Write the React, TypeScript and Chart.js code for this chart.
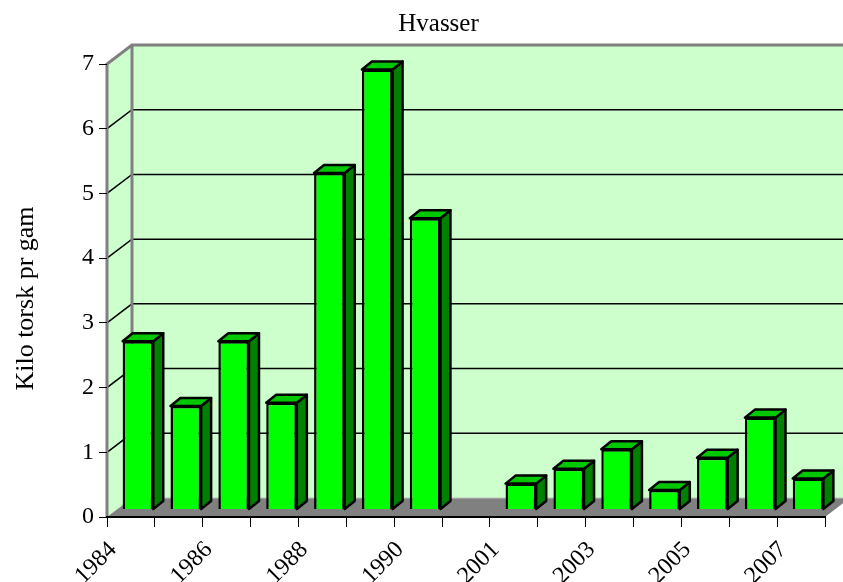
import React, { useEffect, useRef } from 'react';
import { Chart, registerables } from 'chart.js';

Chart.register(...registerables);

// ---- data ----
const categories = ['1984', '1985', '1986', '1987', '1988', '1989', '1990', '2000', '2001', '2002', '2003', '2004', '2005', '2006', '2007'];
const values: (number | null)[] = [2.6, 1.6, 2.6, 1.65, 5.2, 6.8, 4.5, null, 0.4, 0.63, 0.93, 0.3, 0.8, 1.42, 0.48];
const yTicks = [0, 1, 2, 3, 4, 5, 6, 7];
const chartTitle = 'Hvasser';
const yTitle = 'Kilo torsk pr gam';

// ---- style ----
const FONT = "'Times New Roman', 'Liberation Serif', serif";
const WALL_DX = 25;
const WALL_DY = 19;
const BAR_SHIFT_X = 7;
const BAR_SHIFT_Y = 7.5;
const BAR_DX = 10;
const BAR_DY = 8;
const WALL_COLOR = '#CCFFCC';
const FLOOR_COLOR = '#808080';
const EDGE_COLOR = '#808080';

const box3d = {
  id: 'box3d',
  beforeDraw(chart: any) {
    const { ctx, chartArea: a, scales } = chart;
    const ys = scales.y;
    const L = a.left, R = a.right, T = a.top, B = a.bottom;
    const W = chart.width + 10;
    ctx.save();
    // back wall
    ctx.fillStyle = WALL_COLOR;
    ctx.fillRect(L + WALL_DX, T - WALL_DY, W - (L + WALL_DX), B - T);
    // left wall
    ctx.beginPath();
    ctx.moveTo(L, T);
    ctx.lineTo(L + WALL_DX, T - WALL_DY);
    ctx.lineTo(L + WALL_DX, B - WALL_DY);
    ctx.lineTo(L, B);
    ctx.closePath();
    ctx.fill();
    // gridlines
    ctx.strokeStyle = '#000';
    ctx.lineWidth = 1.5;
    yTicks.forEach((v) => {
      if (v <= 0 || v >= yTicks[yTicks.length - 1]) return;
      const py = ys.getPixelForValue(v);
      ctx.beginPath();
      ctx.moveTo(L, py);
      ctx.lineTo(L + WALL_DX, py - WALL_DY);
      ctx.lineTo(W, py - WALL_DY);
      ctx.stroke();
    });
    // floor
    ctx.fillStyle = FLOOR_COLOR;
    ctx.beginPath();
    ctx.moveTo(L, B);
    ctx.lineTo(R, B);
    ctx.lineTo(R + WALL_DX, B - WALL_DY);
    ctx.lineTo(L + WALL_DX, B - WALL_DY);
    ctx.closePath();
    ctx.fill();
    ctx.strokeStyle = '#C0C0C0';
    ctx.lineWidth = 1;
    ctx.beginPath();
    ctx.moveTo(L + WALL_DX, B - WALL_DY);
    ctx.lineTo(W, B - WALL_DY);
    ctx.stroke();
    // outline edges
    ctx.strokeStyle = EDGE_COLOR;
    ctx.lineWidth = 3;
    ctx.lineJoin = 'miter';
    ctx.beginPath();
    ctx.moveTo(L, B);
    ctx.lineTo(L, T);
    ctx.lineTo(L + WALL_DX, T - WALL_DY);
    ctx.lineTo(W, T - WALL_DY);
    ctx.moveTo(L + WALL_DX, T - WALL_DY);
    ctx.lineTo(L + WALL_DX, B - WALL_DY);
    ctx.stroke();
    // titles
    ctx.fillStyle = '#000';
    ctx.font = `25px ${FONT}`;
    ctx.textAlign = 'center';
    ctx.textBaseline = 'alphabetic';
    ctx.fillText(chartTitle, 438.5, 31);
    ctx.save();
    ctx.font = `26px ${FONT}`;
    ctx.translate(33, (T + B) / 2 + 8);
    ctx.rotate(-Math.PI / 2);
    ctx.fillText(yTitle, 0, 0);
    ctx.restore();
    ctx.restore();
  },
  beforeDatasetsDraw(chart: any) {
    const ctx = chart.ctx;
    ctx.save();
    ctx.translate(BAR_SHIFT_X, -BAR_SHIFT_Y);
    const meta = chart.getDatasetMeta(0);
    meta.data.forEach((bar: any, i: number) => {
      if (values[i] == null) return;
      const { x, y, base, width } = bar.getProps(['x', 'y', 'base', 'width'], true);
      if (!isFinite(y)) return;
      const l = x - width / 2;
      const r = x + width / 2;
      ctx.lineWidth = 2.5;
      ctx.strokeStyle = '#000';
      ctx.lineJoin = 'round';
      // side face
      ctx.beginPath();
      ctx.moveTo(r, y);
      ctx.lineTo(r + BAR_DX, y - BAR_DY);
      ctx.lineTo(r + BAR_DX, base - BAR_DY);
      ctx.lineTo(r, base);
      ctx.closePath();
      ctx.fillStyle = '#008000';
      ctx.fill();
      ctx.stroke();
      // top face
      ctx.beginPath();
      ctx.moveTo(l, y);
      ctx.lineTo(l + BAR_DX, y - BAR_DY);
      ctx.lineTo(r + BAR_DX, y - BAR_DY);
      ctx.lineTo(r, y);
      ctx.closePath();
      ctx.fillStyle = '#00C800';
      ctx.fill();
      ctx.stroke();
    });
  },
  afterDatasetsDraw(chart: any) {
    chart.ctx.restore();
  },
};

export default function App() {
  const ref = useRef<HTMLCanvasElement | null>(null);
  useEffect(() => {
    if (!ref.current) return;
    const chart = new Chart(ref.current, {
      type: 'bar',
      data: {
        labels: categories,
        datasets: [
          {
            data: values,
            backgroundColor: '#00FF00',
            borderColor: '#000',
            borderWidth: 2.5,
            barPercentage: 0.64,
            categoryPercentage: 1,
            clip: false,
          } as any,
        ],
      },
      options: {
        responsive: false,
        animation: false,
        events: [],
        layout: { padding: { top: 64, right: 18, left: 0, bottom: 0 } },
        plugins: {
          legend: { display: false },
          title: { display: false },
          tooltip: { enabled: false },
        },
        scales: {
          x: {
            type: 'category',
            offset: true,
            grid: {
              display: true,
              drawOnChartArea: false,
              drawTicks: true,
              tickLength: 10,
              color: '#000',
              lineWidth: 1,
              offset: true,
            },
            border: { display: true, color: '#000', width: 2 },
            ticks: {
              autoSkip: false,
              maxRotation: 45,
              minRotation: 45,
              color: '#000',
              padding: 9,
              labelOffset: -18,
              font: { family: FONT, size: 24 },
              callback: (_v: any, i: number) => (i % 2 === 0 ? categories[i] : ''),
            },
            afterFit: (s: any) => {
              s.height = 65;
            },
          },
          y: {
            min: 0,
            max: 7,
            ticks: {
              color: '#000',
              padding: 5,
              font: { family: FONT, size: 24 },
            },
            afterBuildTicks: (s: any) => {
              s.ticks = yTicks.map((v) => ({ value: v }));
            },
            grid: {
              drawOnChartArea: false,
              drawTicks: true,
              tickLength: 8,
              color: '#000',
            },
            border: { display: false },
            afterFit: (s: any) => {
              s.width = 107;
            },
          },
        },
      } as any,
      plugins: [box3d],
    });
    return () => chart.destroy();
  }, []);
  return (
    <div style={{ position: 'fixed', left: 0, top: 0, width: 843, height: 582, background: '#fff' }}>
      <canvas ref={ref} width={843} height={582} />
    </div>
  );
}
